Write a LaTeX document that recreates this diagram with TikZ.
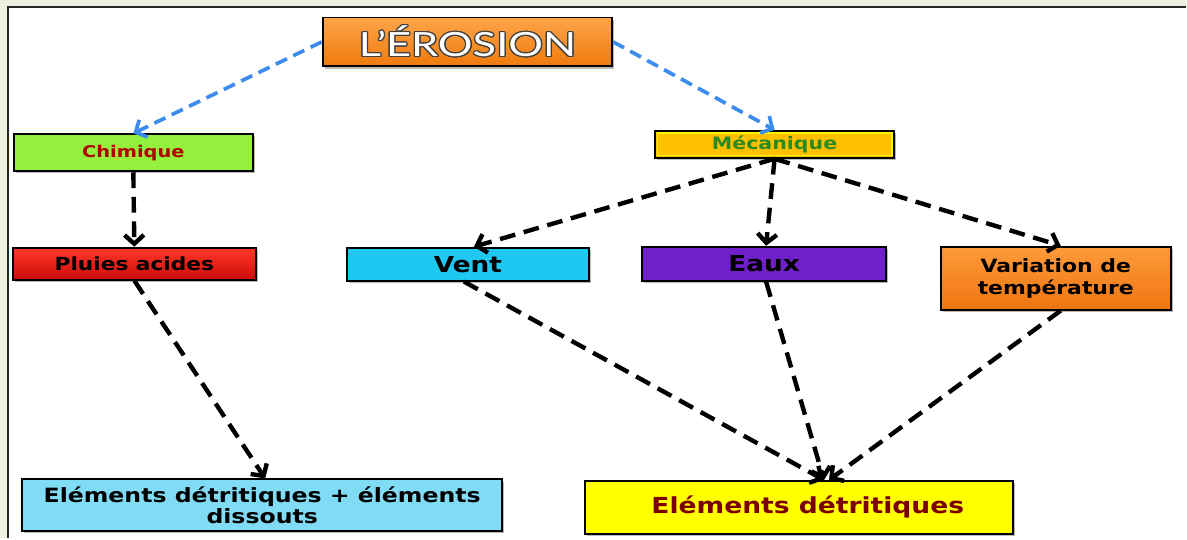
\documentclass[tikz,border=0pt]{standalone}
\usepackage{fontspec}
\usepackage[copies]{contour}
\usetikzlibrary{arrows.meta,calc,positioning,shadows}
\newfontfamily\boxfont{DejaVu Sans}[FakeStretch=1.2]
\newfontfamily\titlefont{Lato}[FakeStretch=1.3]
\definecolor{frame}{HTML}{EBF1DE}
\definecolor{linkblue}{HTML}{3D8BEA}
\definecolor{eroTop}{HTML}{FFA54A}
\definecolor{eroBot}{HTML}{EE7A0C}
\definecolor{chim}{HTML}{93F03C}
\definecolor{meca}{HTML}{FFC000}
\definecolor{pluTop}{HTML}{FF3A2A}
\definecolor{pluBot}{HTML}{CC0A0A}
\definecolor{vent}{HTML}{1EC8F0}
\definecolor{eaux}{HTML}{7020C8}
\definecolor{varTop}{HTML}{FF9A3A}
\definecolor{varBot}{HTML}{EE7510}
\definecolor{dissous}{HTML}{80DCF4}
\definecolor{detri}{HTML}{FFFF00}
\definecolor{darkred}{HTML}{B00000}
\definecolor{maroon}{HTML}{7A0000}
\definecolor{mecatext}{HTML}{2A8A22}
\contourlength{0.7pt}

\begin{document}
\begin{tikzpicture}[x=0.02cm,y=-0.02cm,
  box/.style={draw=black,line width=1.1pt,inner sep=1pt,align=center,font=\boxfont\bfseries,
    drop shadow={opacity=0.55,shadow xshift=1.2pt,shadow yshift=-1.2pt}},
  link/.style={line width=2.5pt,dash pattern=on 9pt off 5pt,-{Straight Barb[length=5pt,width=11pt]}},
  blink/.style={linkblue,line width=2.1pt,dash pattern=on 7pt off 4pt,-{Straight Barb[length=5pt,width=11pt]}}]
% cadre
\fill[frame] (0,0) rectangle (1187,539);
\fill[white] (7,6) rectangle (1187,539);
\draw[line width=1.6pt,black!85] (8,539) -- (8,7) -- (1187,7);
% niveau 1
\node[box,top color=eroTop,bottom color=eroBot,minimum width=5.8cm,minimum height=0.98cm,
  font=\titlefont\fontsize{19}{21}\selectfont] (erosion) at (468,42) {\contour{black!75}{\textcolor{white}{L’ÉROSION}}};
% niveau 2
\node[box,fill=chim,text=darkred,minimum width=4.78cm,minimum height=0.74cm,
  font=\boxfont\bfseries\fontsize{9.2}{10}\selectfont] (chim) at (133.5,153) {Chimique};
\node[box,fill=meca,text=mecatext,minimum width=4.78cm,minimum height=0.54cm,
  font=\boxfont\bfseries\fontsize{9.75}{10}\selectfont] (meca) at (775.5,144.5) {Mécanique};
\draw[yellow,line width=0.8pt] ([shift={(3,3)}]meca.north west) rectangle ([shift={(-3,-3)}]meca.south east);
% niveau 3
\node[box,top color=pluTop,bottom color=pluBot,minimum width=4.86cm,minimum height=0.64cm,
  font=\boxfont\bfseries\fontsize{10.3}{11}\selectfont] (pluies) at (134.5,264) {Pluies acides};
\node[box,fill=vent,minimum width=4.86cm,minimum height=0.66cm,
  font=\boxfont\bfseries\fontsize{12.5}{13}\selectfont] (vent) at (468.5,264.5) {Vent};
\node[box,fill=eaux,minimum width=4.88cm,minimum height=0.68cm,
  font=\boxfont\bfseries\fontsize{12.5}{13}\selectfont] (eaux) at (765,264) {Eaux};
\node[box,top color=varTop,bottom color=varBot,minimum width=4.6cm,minimum height=1.26cm,
  font=\boxfont\bfseries\fontsize{10.4}{12.5}\selectfont] (var) at (1057,278.5) {Variation de\\température};
% niveau 4
\node[box,fill=dissous,minimum width=9.62cm,minimum height=1.04cm,
  font=\boxfont\bfseries\fontsize{11.2}{12}\selectfont] (dissous) at (262.5,506) {Eléments détritiques + éléments\\dissouts};
\node[box,fill=detri,text=maroon,minimum width=8.56cm,minimum height=1.06cm,
  font=\boxfont\bfseries\fontsize{12.6}{13}\selectfont] (detri) at (800,508) {\hspace{0.35cm}Eléments détritiques};
% fleches
\draw[blink] (erosion.west) -- (chim.north); \draw[blink] (erosion.east) -- (meca.north);
\draw[link] (chim.south) -- (pluies.north);
\draw[link] (meca.south) -- ([xshift=0.12cm]vent.north); \draw[link] (meca.south) -- ([xshift=0.04cm]eaux.north); \draw[link] (meca.south) -- ([xshift=0.1cm]var.north);
\draw[link] (pluies.south) -- ([xshift=0.06cm]dissous.north);
\draw[link] ([xshift=-0.08cm]vent.south) -- ([xshift=0.5cm]detri.north); \draw[link] ([xshift=0.04cm]eaux.south) -- ([xshift=0.5cm]detri.north); \draw[link] ([xshift=0.1cm]var.south) -- ([xshift=0.6cm]detri.north);
\end{tikzpicture}
\end{document}
